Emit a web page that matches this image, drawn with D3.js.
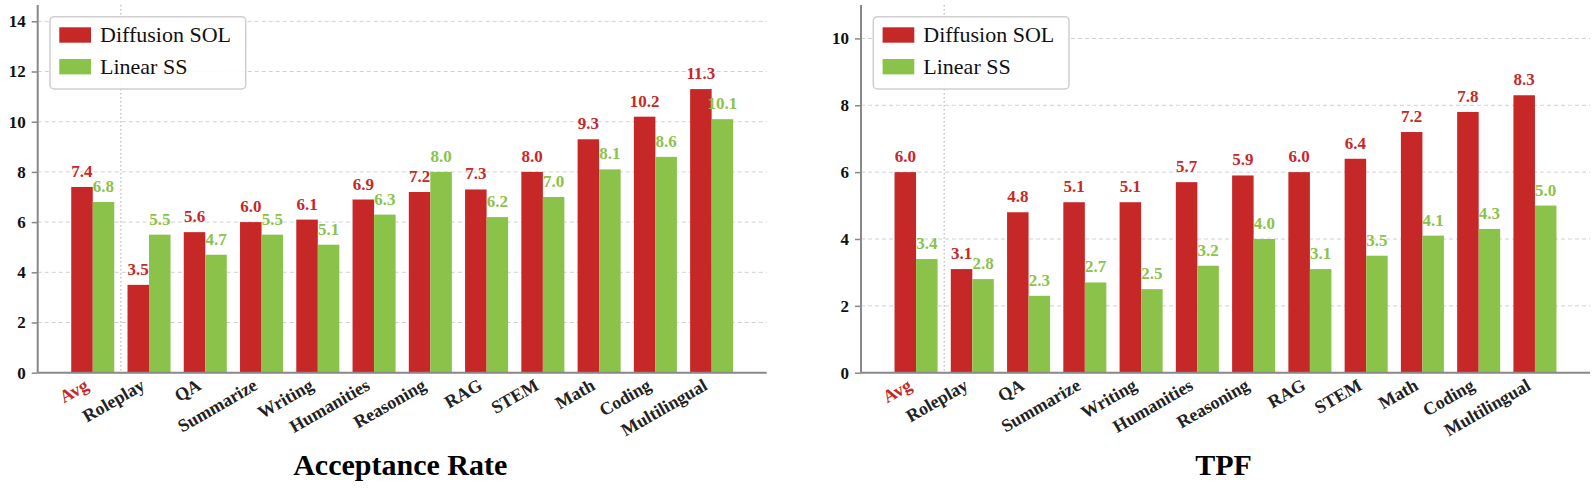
<!DOCTYPE html>
<html>
<head>
<meta charset="utf-8">
<script src="https://cdn.jsdelivr.net/npm/d3@7"></script>
<style>
    body { margin: 0; background: #fff; }
</style>
</head>
<body>
<div id="chart"></div>
<script>
// Categories shared by both panels
const categories = ['Avg', 'Roleplay', 'QA', 'Summarize', 'Writing', 'Humanities',
    'Reasoning', 'RAG', 'STEM', 'Math', 'Coding', 'Multilingual'];
const seriesNames = ['Diffusion SOL', 'Linear SS'];

// Acceptance Rate panel
const accSol = [7.4, 3.5, 5.6, 6.0, 6.1, 6.9, 7.2, 7.3, 8.0, 9.3, 10.2, 11.3];
const accSs = [6.8, 5.5, 4.7, 5.5, 5.1, 6.3, 8.0, 6.2, 7.0, 8.1, 8.6, 10.1];
const accTicks = [0, 2, 4, 6, 8, 10, 12, 14];

// TPF panel
const tpfSol = [6.0, 3.1, 4.8, 5.1, 5.1, 5.7, 5.9, 6.0, 6.4, 7.2, 7.8, 8.3];
const tpfSs = [3.4, 2.8, 2.3, 2.7, 2.5, 3.2, 4.0, 3.1, 3.5, 4.1, 4.3, 5.0];
const tpfTicks = [0, 2, 4, 6, 8, 10];

const colors = { 'Diffusion SOL': '#c62828', 'Linear SS': '#8bc34a' };
const axisColor = '#888';
const FONT = '"Liberation Serif", "DejaVu Serif", serif';

const svg = d3.select('#chart')
    .append('svg')
    .attr('width', 1596)
    .attr('height', 488)
    .attr('font-family', FONT);

function drawPanel(left, title, yMax, ticks, sol, ss) {
    const g = svg.append('g')
        .attr('transform', `translate(${left},5)`);
    const w = 729, h = 367.7;

    const x0 = d3.scaleBand()
        .domain(categories)
        .range([0, w])
        .paddingInner(0.235)
        .paddingOuter(0.596);
    const x1 = d3.scaleBand()
        .domain(seriesNames)
        .range([0, x0.bandwidth()]);
    const y = d3.scaleLinear()
        .domain([0, yMax])
        .range([h, 0]);

    // Grid lines
    g.append('g')
        .selectAll('line')
        .data(ticks.filter(t => t > 0))
        .enter()
        .append('line')
        .attr('x1', 0)
        .attr('x2', w)
        .attr('y1', d => y(d))
        .attr('y2', d => y(d))
        .attr('stroke', '#d0d0d0')
        .attr('stroke-width', 1)
        .attr('stroke-dasharray', '4,3');

    // Separator between Avg and the rest
    const sepX = (x0('Avg') + x0.bandwidth() + x0('Roleplay')) / 2;
    g.append('line')
        .attr('x1', sepX).attr('x2', sepX)
        .attr('y1', 0).attr('y2', h)
        .attr('stroke', '#aaa')
        .attr('stroke-width', 1)
        .attr('stroke-dasharray', '1.5,2.5');

    // Bars
    const rows = categories.map((c, i) => ({
        cat: c,
        vals: [{ s: 'Diffusion SOL', v: sol[i] }, { s: 'Linear SS', v: ss[i] }]
    }));

    const groups = g.selectAll('.grp')
        .data(rows)
        .enter()
        .append('g')
        .attr('transform', d => `translate(${x0(d.cat)},0)`);

    groups.selectAll('rect')
        .data(d => d.vals)
        .enter()
        .append('rect')
        .attr('x', d => x1(d.s))
        .attr('y', d => y(d.v))
        .attr('width', x1.bandwidth())
        .attr('height', d => h - y(d.v))
        .attr('fill', d => colors[d.s]);

    groups.selectAll('.val')
        .data(d => d.vals)
        .enter()
        .append('text')
        .attr('x', d => x1(d.s) + x1.bandwidth() / 2)
        .attr('y', d => y(d.v) - 10)
        .attr('text-anchor', 'middle')
        .style('font-family', FONT)
        .style('font-size', '17px')
        .style('font-weight', 'bold')
        .style('fill', d => colors[d.s])
        .text(d => d.v.toFixed(1));

    // Y axis
    const yAxis = d3.axisLeft(y)
        .tickValues(ticks)
        .tickSize(6)
        .tickPadding(6)
        .tickFormat(d3.format('d'));
    const ya = g.append('g').call(yAxis).attr('font-family', FONT);
    ya.select('.domain').remove();
    ya.selectAll('line').attr('stroke', axisColor).attr('stroke-width', 1.5);
    ya.selectAll('text')
        .style('font-family', FONT)
        .style('font-size', '17px')
        .style('font-weight', 'bold')
        .style('fill', '#111');

    // Spines
    g.append('line')
        .attr('x1', 0).attr('x2', 0)
        .attr('y1', 0).attr('y2', h)
        .attr('stroke', axisColor).attr('stroke-width', 2);
    g.append('line')
        .attr('x1', 0).attr('x2', w)
        .attr('y1', h).attr('y2', h)
        .attr('stroke', axisColor).attr('stroke-width', 2);

    // Category labels, rotated
    g.append('g')
        .selectAll('text')
        .data(categories)
        .enter()
        .append('text')
        .attr('transform', d => `translate(${x0(d) + x0.bandwidth() / 2 - 3},${h + 16}) rotate(-30)`)
        .attr('text-anchor', 'end')
        .style('font-family', FONT)
        .style('font-size', '18px')
        .style('font-weight', 'bold')
        .style('fill', d => d === 'Avg' ? '#c62828' : '#222')
        .text(d => d);

    // Legend
    const lg = g.append('g').attr('transform', 'translate(12.3,11.7)');
    lg.append('rect')
        .attr('width', 195.7)
        .attr('height', 72.3)
        .attr('rx', 4)
        .attr('fill', 'rgba(255,255,255,0.9)')
        .attr('stroke', '#cfcfcf')
        .attr('stroke-width', 1.5);
    seriesNames.forEach((s, i) => {
        lg.append('rect')
            .attr('x', 9.3)
            .attr('y', 10.6 + i * 31.7)
            .attr('width', 31.7)
            .attr('height', 15.4)
            .attr('fill', colors[s]);
        lg.append('text')
            .attr('x', 50)
            .attr('y', 25 + i * 32.6)
            .style('font-family', FONT)
            .style('font-size', '22px')
            .style('fill', '#111')
            .text(s);
    });

    // Panel title
    svg.append('text')
        .attr('x', left + w / 2 - 2)
        .attr('y', 475)
        .attr('text-anchor', 'middle')
        .style('font-family', FONT)
        .style('font-size', '30px')
        .style('font-weight', 'bold')
        .style('fill', '#000')
        .text(title);
}

drawPanel(37.7, 'Acceptance Rate', 14.65, accTicks, accSol, accSs);
drawPanel(861, 'TPF', 11, tpfTicks, tpfSol, tpfSs);
</script>
</body>
</html>
